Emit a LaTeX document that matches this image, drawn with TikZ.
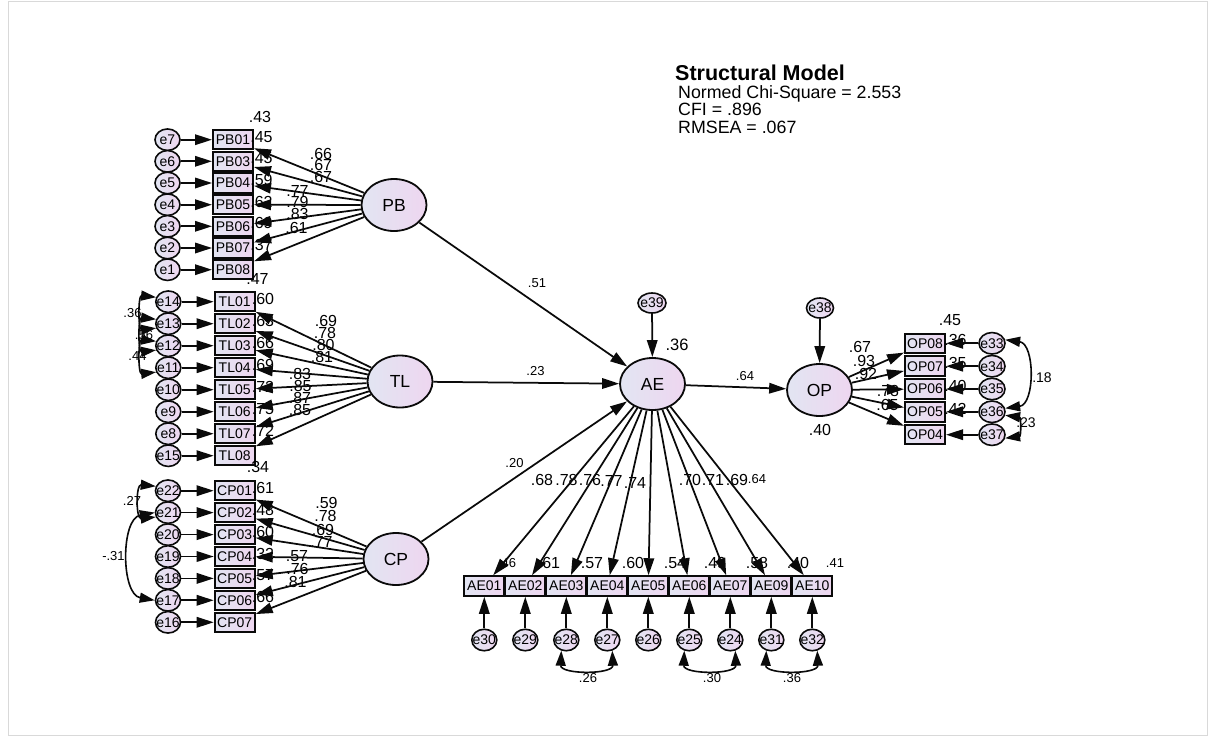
\documentclass[tikz,border=0pt]{standalone}
\usepackage{fontspec}
\setmainfont{Liberation Sans}
\usetikzlibrary{arrows.meta,shapes.geometric}
\definecolor{lb}{RGB}{226,229,242}
\definecolor{lp}{RGB}{238,214,240}
\definecolor{ln}{RGB}{10,10,10}
\newcommand\myfs[1]{\fontsize{#1}{#1}\selectfont}
\newcommand\mb[1]{\makebox[0pt]{#1}}
\begin{document}
\begin{tikzpicture}[x=1pt,y=-1pt]
\tikzset{
 lat/.style={ellipse,draw=ln,line width=1.8pt,left color=lb,right color=lp,minimum width=65pt,minimum height=52pt,inner sep=0pt,font=\myfs{17.5}},
 obs/.style={rectangle,draw=ln,line width=2pt,left color=lb,right color=lp,minimum width=40pt,minimum height=19.5pt,inner sep=0pt,font=\myfs{14}},
 err/.style={ellipse,draw=ln,line width=1.6pt,left color=lb,right color=lp,minimum width=25pt,minimum height=21.5pt,inner sep=0pt,font=\myfs{14}},
 lab/.style={inner sep=0pt,font=\myfs{16}},
 slab/.style={inner sep=0pt,font=\myfs{13}},
 arr/.style={-{Triangle[length=17pt,width=10.5pt]},line width=1.75pt,draw=ln},
 cov/.style={{Triangle[length=15pt,width=10pt]}-{Triangle[length=15pt,width=10pt]},line width=1.6pt,draw=ln},
}
\path[use as bounding box] (0,0) rectangle (1208,736);
\draw[gray!30,line width=1pt] (8,1) rectangle (1207,735);

% title
\node[anchor=base west,inner sep=0pt,font=\bfseries\myfs{21.5}] (title) at (675,80) {Structural Model};
\node[anchor=base west,inner sep=0pt,font=\myfs{17.8}] (s1) at (678,98.3) {Normed Chi-Square = 2.553};
\node[anchor=base west,inner sep=0pt,font=\myfs{17.8}] (s2) at (678,115.7) {CFI = .896};
\node[anchor=base west,inner sep=0pt,font=\myfs{17.8}] (s3) at (678,133.3) {RMSEA = .067};

% latents
\node[lat] (PB) at (394,205) {PB};
\node[lat] (TL) at (400,381.5) {TL};
\node[lat] (CP) at (396,559) {CP};
\node[lat] (AE) at (652.5,384) {AE};
\node[lat] (OP) at (819.5,390) {OP};
\node[err,minimum width=28pt,minimum height=20pt] (e39) at (652,303) {\mb{e39}};
\node[err,minimum width=27pt,minimum height=20pt] (e38) at (820,308) {\mb{e38}};

% PB indicators
\foreach \n/\e/\y in {PB01/e7/139.7,PB03/e6/161.3,PB04/e5/183,PB05/e4/204.7,PB06/e3/226.3,PB07/e2/248,PB08/e1/269.7}{
 \node[obs] (\n) at (233,\y) {\n};
 \node[err] (\e) at (167.5,\y) {\mb{\e}};
}
% TL indicators
\foreach \n/\e/\y in {TL01/e14/301.7,TL02/e13/323.7,TL03/e12/345.7,TL04/e11/367.7,TL05/e10/389.7,TL06/e9/411.7,TL07/e8/433.7,TL08/e15/455.7}{
 \node[obs] (\n) at (234.7,\y) {\n};
 \node[err] (\e) at (168.3,\y) {\mb{\e}};
}
% CP indicators
\foreach \n/\e/\y in {CP01/e22/490.7,CP02/e21/512.6,CP03/e20/534.6,CP04/e19/556.5,CP05/e18/578.4,CP06/e17/600.3,CP07/e16/622.3}{
 \node[obs] (\n) at (234.7,\y) {\n};
 \node[err] (\e) at (168,\y) {\mb{\e}};
}
% AE indicators
\foreach \n/\e/\x in {AE01/e30/484.3,AE02/e29/525.3,AE03/e28/566.3,AE04/e27/607.3,AE05/e26/648.3,AE06/e25/689.3,AE07/e24/730.3,AE09/e31/771.3,AE10/e32/812.3}{
 \node[obs] (\n) at (\x,586) {\n};
 \node[err] (\e) at (\x,640) {\mb{\e}};
}
% OP indicators
\foreach \n/\e/\y in {OP08/e33/343.3,OP07/e34/366.2,OP06/e35/389,OP05/e36/411.8,OP04/e37/434.7}{
 \node[obs] (\n) at (925,\y) {\n};
 \node[err,minimum width=26pt] (\e) at (992,\y) {\mb{\e}};
}

% labels (drawn before arrows)
\foreach \t/\x/\y in {.66/321/154,.67/321/165,.67/321/176.5,.77/297.5/190.5,.79/297.5/202,.83/297.5/214,.61/296.5/228,
 .43/260/116.5,.45/261.5/137,.45/261.5/158.5,.59/261.5/180,.62/261.5/201.5,.69/261.5/223,.37/261.5/245,.47/257.5/279,
 .69/326/321,.78/325/333,.80/323.5/345,.81/322/357,.83/300/374,.85/300.5/386,.87/300/398,.85/300/410,
 .60/263/298.7,.63/263/320.7,.66/263/342.7,.69/263/364.7,.72/263/386.7,.75/263/408.7,.72/263/430.7,.34/258/466.5,
 .59/326.5/503,.78/325.5/516,.69/323/530,.77/321.5/541.5,.57/297/556,.76/297.5/568.5,.81/295.5/581.5,
 .61/263/487.7,.48/263/509.6,.60/263/531.6,.32/263/553.5,.57/263/575.4,.66/263/597.3,
 .68/542/479.5,.78/566.5/479.5,.76/590/479.5,.77/611.5/480.5,.74/635/482.5,.70/690/479.5,.71/713/479.5,.69/737/479.5,
 .61/549/563,.57/592/563,.60/633/563,.54/675/563,.49/715/563,.58/757/563,.40/798/563,
 .40/820/430,.45/950/320,
 .67/860/346.5,.93/864/361,.92/866/373.5,.78/888/391,.65/887.5/405,
 .36/955.5/340.3,.35/955.5/363.2,.40/955.5/386,.42/955.5/408.8}
 \node[lab] at (\x,\y) {\t};
\node[lab,font=\myfs{16.5}] at (677,345) {.36};
\foreach \t/\x/\y in {.64/757/479,.46/507/563,.41/835/563,.51/537/283,.23/535.5/371.5,.64/745/376,.20/514.5/463,
 .26/588/678,.30/712/678,.36/792/678,.36/132.5/313,.56/144/335,.44/137.5/356.5,.27/132/500.5,-.31/113.5/556.5}
 \node[slab] at (\x,\y) {\t};
\node[inner sep=0pt,font=\myfs{14}] at (1042,378) {.18};
\node[inner sep=0pt,font=\myfs{14}] at (1026,423) {.23};

% arrows
\foreach \n/\e in {PB01/e7,PB03/e6,PB04/e5,PB05/e4,PB06/e3,PB07/e2,PB08/e1}{
 \draw[arr] (\e) -- (\n); \draw[arr] (PB) -- (\n);}
\foreach \n/\e in {TL01/e14,TL02/e13,TL03/e12,TL04/e11,TL05/e10,TL06/e9,TL07/e8,TL08/e15}{
 \draw[arr] (\e) -- (\n); \draw[arr] (TL) -- (\n);}
\foreach \n/\e in {CP01/e22,CP02/e21,CP03/e20,CP04/e19,CP05/e18,CP06/e17,CP07/e16}{
 \draw[arr] (\e) -- (\n); \draw[arr] (CP) -- (\n);}
\foreach \n/\e in {AE01/e30,AE02/e29,AE03/e28,AE04/e27,AE05/e26,AE06/e25,AE07/e24,AE09/e31,AE10/e32}{
 \draw[arr] (\e) -- (\n); \draw[arr] (AE) -- (\n);}
\foreach \n/\e in {OP08/e33,OP07/e34,OP06/e35,OP05/e36,OP04/e37}{
 \draw[arr] (\e) -- (\n); \draw[arr] (OP) -- (\n);}
\draw[arr] (PB) -- (AE);
\draw[arr] (TL) -- (AE);
\draw[arr] (CP) -- (AE);
\draw[arr] (AE) -- (OP);
\draw[arr] (e39) -- (AE);
\draw[arr] (e38) -- (OP);

% covariances
\draw[cov] (e14.160) .. controls +(-18,-2) and +(-18,2) .. (e13.200);
\draw[cov] (e13.160) .. controls +(-18,-2) and +(-18,2) .. (e12.200);
\draw[cov] (e12.160) .. controls +(-18,-2) and +(-18,2) .. (e11.200);
\draw[cov] (e22.160) .. controls +(-20,-2) and +(-20,2) .. (e21.200);
\draw[cov] (e21.west) .. controls +(-34,6) and +(-34,-6) .. (e17.west);
\draw[cov] (e28.-115) .. controls +(-1,24) and +(1,24) .. (e27.-65);
\draw[cov] (e25.-115) .. controls +(-1,24) and +(1,24) .. (e24.-65);
\draw[cov] (e31.-115) .. controls +(-1,24) and +(1,24) .. (e32.-65);
\draw[cov] (e33.15) .. controls +(30,4) and +(30,-4) .. (e36.15);
\draw[cov] (e36.-15) .. controls +(16,2) and +(16,-2) .. (e37.-15);
\end{tikzpicture}
\end{document}
